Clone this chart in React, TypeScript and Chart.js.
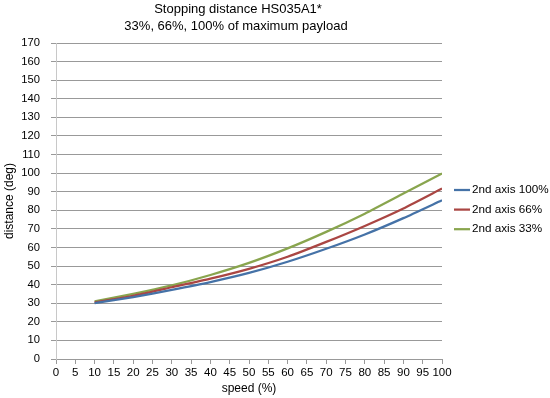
import React, { useEffect, useRef } from "react";
import { Chart, registerables } from "chart.js";

Chart.register(...registerables);

const speeds = [10, 20, 30, 40, 50, 60, 70, 80, 90, 100];
const axis100 = [30, 33.3, 37.2, 41.4, 46.3, 52.3, 59.3, 67, 75.8, 85.4];
const axis66 = [30.5, 34, 38.6, 43.2, 48.5, 55, 63, 71.6, 81, 91.7];
const axis33 = [31, 35, 39.6, 45.2, 51.7, 59.5, 68.4, 78.2, 89, 99.8];
const seriesLabels = ["2nd axis 100%", "2nd axis 66%", "2nd axis 33%"];
const seriesColors = ["#4572A7", "#AA4643", "#89A54E"];
const titleLines = ["Stopping distance HS035A1*", "33%, 66%, 100% of maximum payload"];

const FONT = "'Liberation Sans', Arial, sans-serif";

const decor = {
  id: "decor",
  afterDraw(chart: any) {
    const ctx = chart.ctx;
    ctx.save();
    ctx.fillStyle = "#000";
    ctx.font = `13px ${FONT}`;
    ctx.textAlign = "center";
    ctx.textBaseline = "middle";
    ctx.fillText(titleLines[0], 238, 9);
    ctx.fillText(titleLines[1], 236, 26);
    ctx.font = `11.7px ${FONT}`;
    ctx.textAlign = "left";
    chart.data.datasets.forEach((ds: any, i: number) => {
      const y = 190 + i * 19.6;
      ctx.strokeStyle = ds.borderColor;
      ctx.lineWidth = 2.25;
      ctx.beginPath();
      ctx.moveTo(454, y);
      ctx.lineTo(470, y);
      ctx.stroke();
      ctx.fillStyle = "#000";
      ctx.fillText(ds.label, 472, y);
    });
    ctx.restore();
  },
};

export default function App() {
  const ref = useRef<HTMLCanvasElement>(null);
  useEffect(() => {
    if (!ref.current) return;
    const data = [axis100, axis66, axis33];
    const chart = new Chart(ref.current, {
      type: "line",
      data: {
        datasets: data.map((vals, i) => ({
          label: seriesLabels[i],
          data: speeds.map((s, j) => ({ x: s, y: vals[j] })),
          borderColor: seriesColors[i],
          backgroundColor: seriesColors[i],
          borderWidth: 2.25,
          pointRadius: 0,
          tension: 0.2,
          fill: false,
        })),
      },
      options: {
        animation: false,
        responsive: false,
        maintainAspectRatio: false,
        layout: { padding: { top: 43, right: 108, bottom: 0, left: 0 } },
        plugins: {
          legend: { display: false },
          title: { display: false },
          tooltip: { enabled: false },
        },
        scales: {
          x: {
            type: "linear",
            min: 0,
            max: 100,
            afterFit: (s: any) => {
              s.height = 39;
            },
            ticks: {
              stepSize: 5,
              color: "#000",
              font: { family: FONT, size: 11.5 },
              padding: 2,
              maxRotation: 0,
              autoSkip: false,
            },
            grid: {
              drawOnChartArea: false,
              drawTicks: true,
              tickLength: 5,
              color: "#999999",
            },
            border: { color: "#999999" },
            title: {
              display: true,
              text: "speed (%)",
              color: "#000",
              font: { family: FONT, size: 12 },
              padding: { top: 0, bottom: 2 },
            },
          },
          y: {
            type: "linear",
            min: 0,
            max: 170,
            afterFit: (s: any) => {
              s.width = 56;
            },
            ticks: {
              stepSize: 10,
              color: "#000",
              font: { family: FONT, size: 11.2 },
              padding: 11,
            },
            grid: {
              color: "#999999",
              tickLength: 5,
            },
            border: { color: "#c8c8c8" },
            title: {
              display: true,
              text: "distance (deg)",
              color: "#000",
              font: { family: FONT, size: 12 },
              padding: { top: 2, bottom: 0 },
            },
          },
        },
      },
      plugins: [decor],
    });
    return () => chart.destroy();
  }, []);
  return (
    <div style={{ position: "absolute", left: 0, top: 0, width: 550, height: 398, background: "#fff" }}>
      <canvas ref={ref} width={550} height={398} style={{ width: 550, height: 398 }} />
    </div>
  );
}
